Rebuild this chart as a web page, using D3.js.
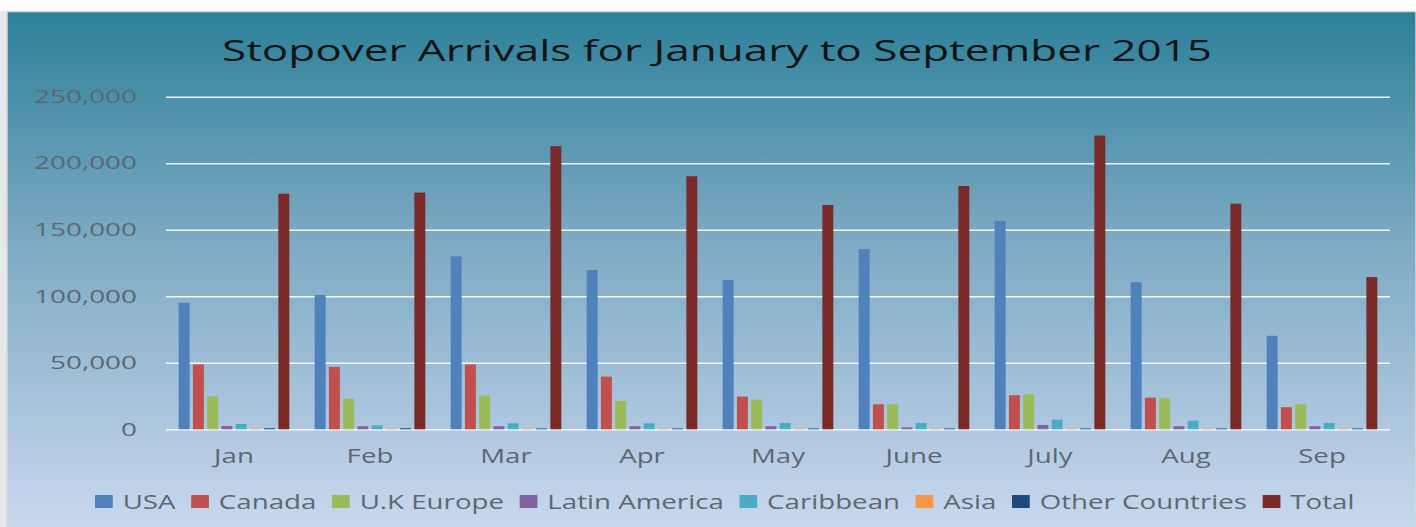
<!DOCTYPE html>
<html>
<head>
<meta charset="utf-8">
<script src="https://cdn.jsdelivr.net/npm/d3@7"></script>
<style>
  html, body { margin: 0; padding: 0; background: #ffffff; }
  svg { display: block; }
  text { font-family: "Open Sans", "Noto Sans", sans-serif; }
</style>
</head>
<body>
<svg id="chart" width="1416" height="527"></svg>
<script>
// Stopover arrivals by market, January to September 2015
const categories = ["Jan", "Feb", "Mar", "Apr", "May", "June", "July", "Aug", "Sep"];
const seriesNames = ["USA", "Canada", "U.K Europe", "Latin America", "Caribbean", "Asia", "Other Countries", "Total"];

const usa            = [95100, 100900, 130000, 119700, 112200, 135500, 156600, 110600, 70300];
const canada         = [48700, 46900, 48700, 39600, 24600, 18800, 25600, 23800, 16600];
const ukEurope       = [24800, 23100, 25300, 21300, 22300, 18800, 26300, 23300, 18800];
const latinAmerica   = [2500, 2300, 2300, 2300, 2300, 1500, 3300, 2300, 2300];
const caribbean      = [4000, 3000, 4500, 4500, 4800, 4800, 7300, 6500, 4800];
const asia           = [500, 500, 500, 500, 500, 500, 500, 500, 500];
const otherCountries = [800, 800, 600, 600, 600, 600, 600, 600, 600];
const total          = [177100, 177900, 212800, 190200, 168600, 182900, 220800, 169600, 114400];

const yTicks = [0, 50000, 100000, 150000, 200000, 250000];

const seriesValues = [usa, canada, ukEurope, latinAmerica, caribbean, asia, otherCountries, total];
const seriesColors = ["#4f81bd", "#c0504d", "#9bbb59", "#8064a2", "#4bacc6", "#f79646", "#1f497d", "#7a2a28"];

const svg = d3.select("#chart");
const W = 1416, H = 527;

// light frame on the left edge
svg.append("rect").attr("x", 0).attr("y", 11).attr("width", 7).attr("height", H - 11).attr("fill", "#e6e8ea");

// background panel with vertical gradient
const defs = svg.append("defs");
const grad = defs.append("linearGradient")
  .attr("id", "bg").attr("x1", 0).attr("y1", 0).attr("x2", 0).attr("y2", 1);
grad.append("stop").attr("offset", "0%").attr("stop-color", "#2d8099");
grad.append("stop").attr("offset", "45%").attr("stop-color", "#7eaac4");
grad.append("stop").attr("offset", "100%").attr("stop-color", "#c8d8ee");

svg.append("rect")
  .attr("x", 7).attr("y", 11.5).attr("width", W - 7).attr("height", H - 11)
  .attr("fill", "url(#bg)")
  .attr("stroke", "#d6d9dc").attr("stroke-width", 1.5);

// plot geometry
const plotLeft = 166, plotRight = 1390, plotTop = 96.7, plotBottom = 429.3;

const x0 = d3.scaleBand().domain(categories).range([plotLeft, plotRight]).padding(0);
const x1 = d3.scaleBand().domain(seriesNames).range([0, x0.bandwidth()])
  .paddingInner(0.23).paddingOuter(0.89);
const y = d3.scaleLinear().domain([0, 250000]).range([plotBottom, plotTop]);

// text in this chart is drawn horizontally widened
const yStretch = 1.55;
const xStretch = 1.42;

// horizontal grid + y tick labels
const yAxis = svg.append("g")
  .attr("transform", `translate(${plotLeft},0)`)
  .call(d3.axisLeft(y).tickValues(yTicks).tickSize(-(plotRight - plotLeft)).tickFormat(d3.format(",")));
yAxis.select(".domain").remove();
yAxis.selectAll(".tick line")
  .attr("stroke", "#ffffff").attr("stroke-width", 1.6).attr("stroke-opacity", 0.9);
yAxis.selectAll(".tick text")
  .attr("x", -29 / yStretch)
  .attr("transform", `scale(${yStretch},1)`)
  .attr("fill", "#5c6870")
  .attr("font-size", 18);

// grouped bars
const groups = svg.append("g").selectAll("g")
  .data(categories)
  .join("g")
  .attr("transform", d => `translate(${x0(d)},0)`);

groups.selectAll("rect")
  .data((c, i) => seriesNames.map((s, k) => ({ s, k, v: seriesValues[k][i] })))
  .join("rect")
  .attr("x", d => x1(d.s))
  .attr("width", x1.bandwidth())
  .attr("y", d => y(d.v))
  .attr("height", d => y(0) - y(d.v))
  .attr("fill", d => seriesColors[d.k]);

// category labels
const xAxis = svg.append("g")
  .attr("transform", `translate(0,${plotBottom})`)
  .call(d3.axisBottom(x0).tickSize(0));
xAxis.select(".domain").remove();
xAxis.selectAll(".tick text")
  .attr("y", 34).attr("dy", 0)
  .attr("transform", `scale(${xStretch},1)`)
  .attr("fill", "#5c6870")
  .attr("font-size", 19.5);

// title
svg.append("text")
  .attr("x", 717).attr("y", 61)
  .attr("text-anchor", "middle")
  .attr("font-size", 30)
  .attr("fill", "#141414")
  .attr("textLength", 990)
  .attr("lengthAdjust", "spacingAndGlyphs")
  .text("Stopover Arrivals for January to September 2015");

// legend (laid out in unstretched units, then widened)
const legend = svg.append("g").attr("transform", `translate(95,0) scale(${xStretch},1)`);
let lx = 0;
seriesNames.forEach((name, k) => {
  const item = legend.append("g").attr("transform", `translate(${lx},0)`);
  item.append("rect")
    .attr("x", 0).attr("y", 495).attr("width", 12.5).attr("height", 13)
    .attr("fill", seriesColors[k]);
  const t = item.append("text")
    .attr("x", 19.5).attr("y", 509)
    .attr("font-size", 19.5)
    .attr("fill", "#5c6870")
    .text(name);
  lx += 19.5 + t.node().getComputedTextLength() + 11;
});
</script>
</body>
</html>
